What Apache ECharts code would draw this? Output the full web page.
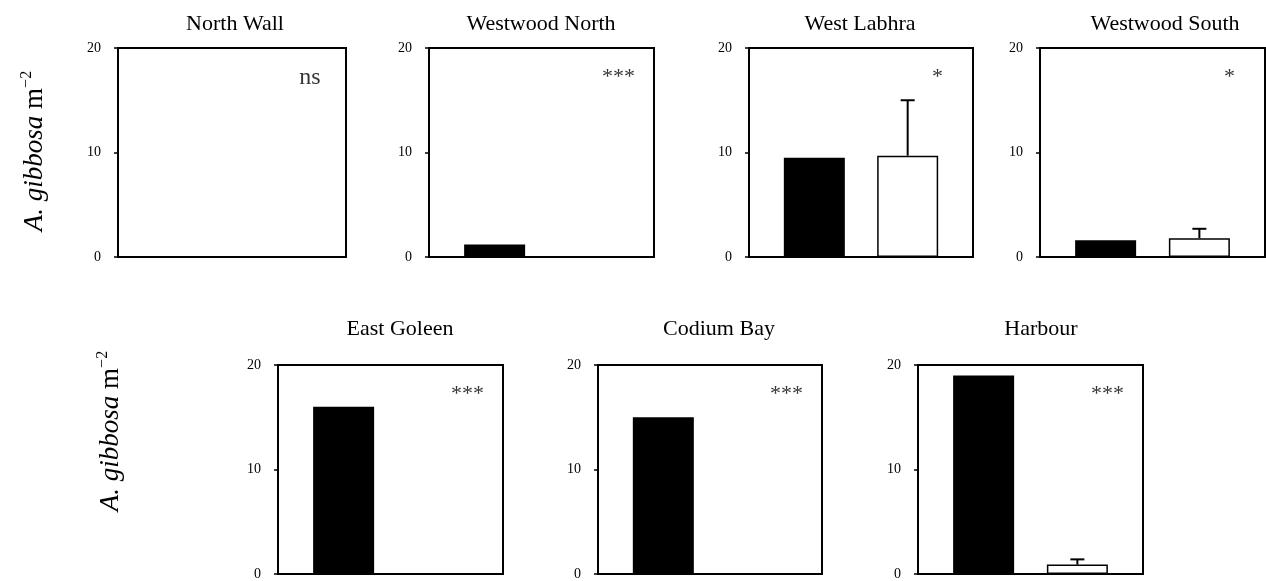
<!DOCTYPE html>
<html>
<head>
<meta charset="utf-8">
<script src="https://cdn.jsdelivr.net/npm/echarts@6/dist/echarts.min.js"></script>
<style>
  html, body { margin: 0; padding: 0; background: #fff; }
  #main { width: 1266px; height: 581px; }
</style>
</head>
<body>
<div id="main"></div>
<script>
// sites and values
var sites = ['North Wall', 'Westwood North', 'West Labhra', 'Westwood South', 'East Goleen', 'Codium Bay', 'Harbour'];
var blackVals = [0, 1.2, 9.5, 1.6, 16.0, 15.0, 19.0];
var whiteVals = [0, 0, 9.7, 1.8, 0, 0, 0.9];
var whiteErr = [0, 0, 5.3, 0.9, 0, 0, 0.5];
var signif = ['ns', '***', '*', '*', '***', '***', '***'];
var yTicks = [0, 10, 20];

// panel boxes (px)
var panels = [
    { left: 118, top: 48, width: 228, height: 209, tx: 230, ty: 8 },
    { left: 429, top: 48, width: 225, height: 209, tx: 536, ty: 8 },
    { left: 749, top: 48, width: 224, height: 209, tx: 855, ty: 8 },
    { left: 1040, top: 48, width: 225, height: 209, tx: 1160, ty: 8 },
    { left: 278, top: 365, width: 225, height: 210, tx: 395, ty: 313 },
    { left: 598, top: 365, width: 224, height: 210, tx: 714, ty: 313 },
    { left: 918, top: 365, width: 225, height: 210, tx: 1036, ty: 313 }
];

var FONT = '"Liberation Serif", "Times New Roman", serif';
var chart = echarts.init(document.getElementById('main'));

var grids = [], xAxes = [], yAxes = [], titles = [], series = [];

for (var i = 0; i < sites.length; i++) {
    var p = panels[i];
    grids.push({
        left: p.left, top: p.top, width: p.width, height: p.height,
        show: true, borderColor: '#000', borderWidth: 2, backgroundColor: '#fff'
    });
    xAxes.push({
        gridIndex: i, type: 'value', min: -0.7, max: 1.7,
        axisLine: { show: true, onZero: false, lineStyle: { color: '#000', width: 2 } },
        axisTick: { show: false }, axisLabel: { show: false }, splitLine: { show: false }
    });
    yAxes.push({
        gridIndex: i, type: 'value', min: yTicks[0], max: yTicks[yTicks.length - 1], interval: 10,
        axisLine: { show: true, onZero: false, lineStyle: { color: '#000', width: 2 } },
        axisTick: { show: true, inside: false, length: 4, lineStyle: { color: '#000', width: 1.5 } },
        axisLabel: { color: '#000', fontSize: 14, fontFamily: FONT, margin: 17 },
        splitLine: { show: false }
    });
    titles.push({
        text: sites[i], left: p.tx, top: p.ty, textAlign: 'center',
        textStyle: { fontSize: 22, fontWeight: 'normal', color: '#000', fontFamily: FONT }
    });
    series.push({
        type: 'bar', xAxisIndex: i, yAxisIndex: i, barWidth: 61,
        data: [
            { value: [0, blackVals[i]], itemStyle: { color: '#000' } },
            { value: [1, whiteVals[i]], itemStyle: { color: '#fff', borderColor: '#000', borderWidth: 1.5 } }
        ]
    });
    if (whiteErr[i] > 0) {
        series.push({
            type: 'custom', xAxisIndex: i, yAxisIndex: i, z: 5,
            data: [[1, whiteVals[i], whiteVals[i] + whiteErr[i]]],
            renderItem: function (params, api) {
                var lo = api.coord([api.value(0), api.value(1)]);
                var hi = api.coord([api.value(0), api.value(2)]);
                var half = 7;
                var st = { stroke: '#000', lineWidth: 2 };
                return {
                    type: 'group',
                    children: [
                        { type: 'line', shape: { x1: lo[0], y1: lo[1], x2: hi[0], y2: hi[1] }, style: st },
                        { type: 'line', shape: { x1: hi[0] - half, y1: hi[1], x2: hi[0] + half, y2: hi[1] }, style: st }
                    ]
                };
            }
        });
    }
    series.push({
        type: 'scatter', xAxisIndex: i, yAxisIndex: i, symbolSize: 1,
        itemStyle: { color: 'transparent' }, silent: true,
        data: [{ value: [1.32, 17.2], name: signif[i] }],
        label: {
            show: true, position: 'inside', formatter: '{b}', color: '#000',
            fontFamily: FONT, fontSize: signif[i] === 'ns' ? 24 : 22
        }
    });
}

function yName(x, y) {
    return {
        type: 'text', x: x, y: y, rotation: Math.PI / 2,
        style: {
            text: '{i|A. gibbosa} m{s|\u22122}',
            align: 'center', verticalAlign: 'middle',
            rich: {
                i: { fontFamily: FONT, fontStyle: 'italic', fontSize: 27, lineHeight: 32, fill: '#000' },
                s: { fontFamily: FONT, fontSize: 16, verticalAlign: 'top', lineHeight: 32, padding: [0, 0, 12, 0], fill: '#000' }
            },
            font: '27px ' + FONT,
            fill: '#000'
        }
    };
}

chart.setOption({
    backgroundColor: '#fff',
    animation: false,
    textStyle: { fontFamily: FONT },
    title: titles,
    grid: grids,
    xAxis: xAxes,
    yAxis: yAxes,
    series: series,
    graphic: [yName(35, 151), yName(111, 431)]
});
</script>
</body>
</html>
